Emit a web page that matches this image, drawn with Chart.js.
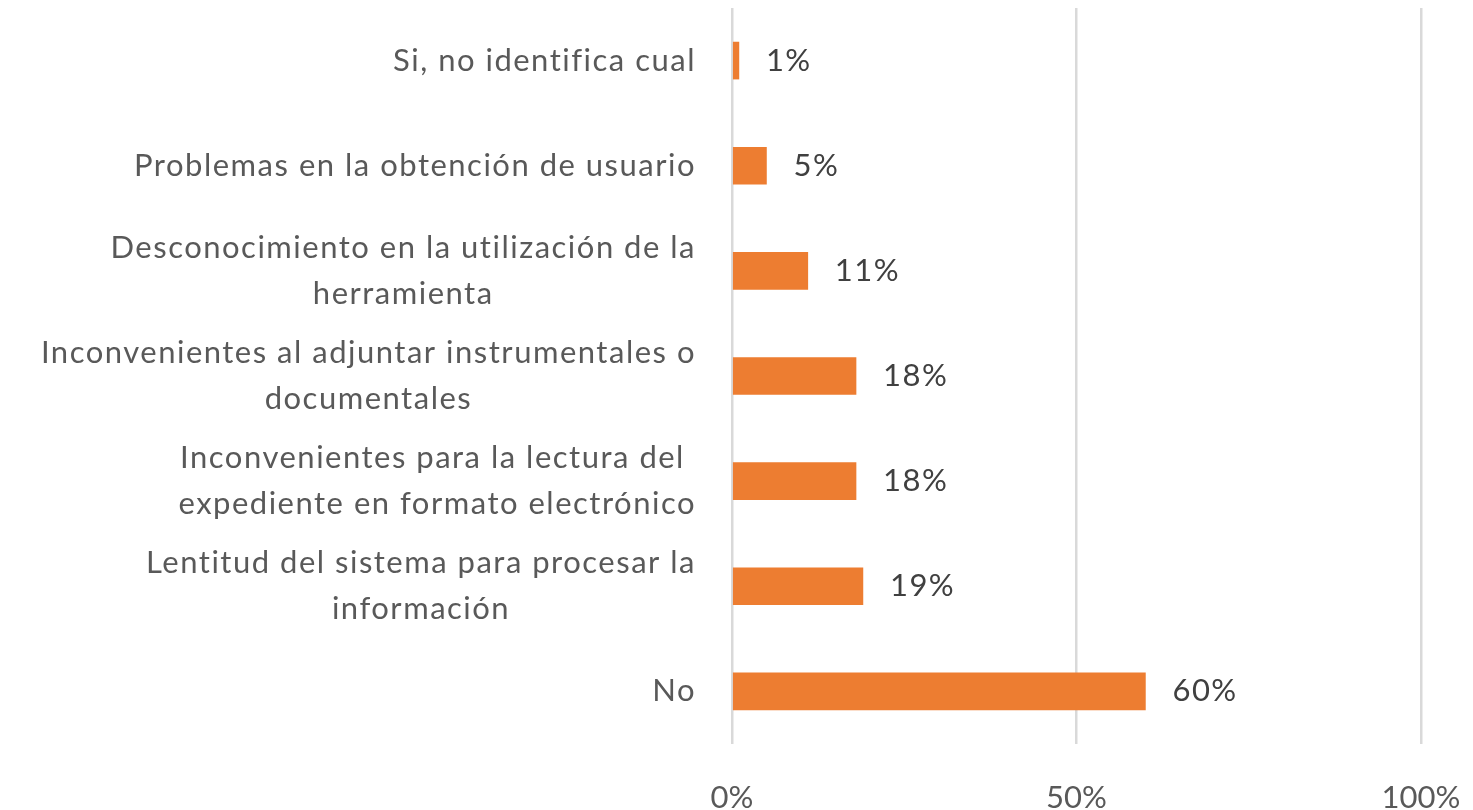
<!DOCTYPE html>
<html lang="es">
<head>
    <meta charset="UTF-8">
    <title>Inconvenientes</title>
    <script src="https://cdn.jsdelivr.net/npm/chart.js@4.4.0/dist/chart.umd.min.js"></script>
    <style>
        html, body { margin: 0; padding: 0; background: #fff; }
        #wrap { width: 1473px; height: 810px; }
    </style>
</head>
<body>
    <div id="wrap"><canvas id="chart"></canvas></div>
    <script>
        const categories = [
            ['Si, no identifica cual'],
            ['Problemas en la obtención de usuario'],
            ['Desconocimiento en la utilización de la', 'herramienta'],
            ['Inconvenientes al adjuntar instrumentales o', 'documentales'],
            ['Inconvenientes para la lectura del ', 'expediente en formato electrónico'],
            ['Lentitud del sistema para procesar la', 'información'],
            ['No']
        ];
        const percentages = [1, 5, 11, 18, 18, 19, 60];
        const xTicks = [0, 50, 100];

        const FONT = 'Lato, "Open Sans", sans-serif';
        const FS = 31;
        const SPACING = '1.5px';

        // category labels: block right-aligned, lines centred inside the block
        const catLabels = {
            id: 'catLabels',
            afterDraw(chart) {
                const ctx = chart.ctx, y = chart.scales.y;
                const right = chart.chartArea.left - 36, lh = 46;
                ctx.save();
                ctx.font = FS + 'px ' + FONT;
                ctx.letterSpacing = SPACING;
                ctx.fillStyle = '#595959';
                ctx.textAlign = 'center';
                ctx.textBaseline = 'middle';
                categories.forEach((lines, i) => {
                    const w = Math.max(...lines.map(l => ctx.measureText(l).width));
                    const cx = right - w / 2;
                    const cy = y.getPixelForTick(i);
                    lines.forEach((l, j) => {
                        ctx.fillText(l, cx, cy + (j - (lines.length - 1) / 2) * lh);
                    });
                });
                ctx.restore();
            }
        };

        const valueLabels = {
            id: 'valueLabels',
            afterDatasetsDraw(chart) {
                const ctx = chart.ctx;
                ctx.save();
                ctx.font = FS + 'px ' + FONT;
                ctx.letterSpacing = SPACING;
                ctx.fillStyle = '#404040';
                ctx.textBaseline = 'middle';
                chart.getDatasetMeta(0).data.forEach((bar, i) => {
                    ctx.fillText(percentages[i] + '%', bar.x + 27, bar.y);
                });
                ctx.restore();
            }
        };

        new Chart(document.getElementById('chart'), {
            type: 'bar',
            data: {
                labels: categories.map(c => c.join(' ')),
                datasets: [{
                    data: percentages,
                    backgroundColor: '#ED7D31',
                    barThickness: 37
                }]
            },
            options: {
                indexAxis: 'y',
                responsive: true,
                maintainAspectRatio: false,
                animation: false,
                layout: { padding: { top: 8, right: 52, bottom: 0, left: 0 } },
                plugins: {
                    legend: { display: false },
                    tooltip: { enabled: false }
                },
                scales: {
                    x: {
                        min: 0, max: 100,
                        afterBuildTicks: s => { s.ticks = xTicks.map(v => ({ value: v })); },
                        afterFit: s => { s.height = 66; s.paddingLeft = 0; s.paddingRight = 0; },
                        ticks: {
                            callback: v => v + '%',
                            font: { family: FONT, size: FS },
                            color: '#595959',
                            padding: 35,
                            maxRotation: 0
                        },
                        grid: { color: '#d9d9d9', lineWidth: 2.5, drawTicks: false },
                        border: { display: false }
                    },
                    y: {
                        afterFit: s => { s.width = 732; },
                        ticks: { display: false },
                        grid: { display: false },
                        border: { display: false }
                    }
                }
            },
            plugins: [catLabels, valueLabels]
        });
    </script>
</body>
</html>
